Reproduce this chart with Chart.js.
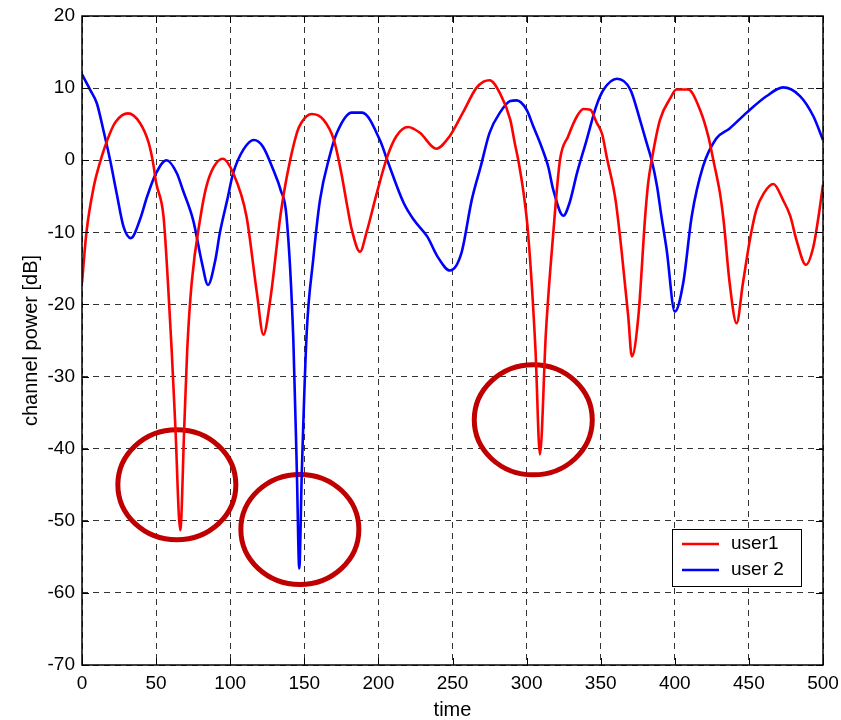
<!DOCTYPE html>
<html>
<head>
<meta charset="utf-8">
<script src="https://cdn.jsdelivr.net/npm/chart.js@4/dist/chart.umd.min.js"></script>
<style>
  html, body { margin: 0; padding: 0; background: #fff; }
  #wrap { width: 841px; height: 720px; }
</style>
</head>
<body>
<div id="wrap"><canvas id="chart" width="841" height="720"></canvas></div>
<script>
// user1 (red)
const user1Time = [
  0, 3, 8, 12, 19, 23, 31, 39, 45, 48,
  50, 55, 58, 60.5, 63, 66.3, 69, 71, 74, 80,
  84, 89, 95, 102, 111, 118, 122.4, 127, 134, 138,
  145, 148, 155, 163, 170, 175, 179, 182, 187.6, 192,
  199, 206, 212, 220, 228, 239, 248, 257, 266, 271,
  275, 282, 289, 292, 294.4, 298, 301, 306, 309, 313,
  318, 322.5, 328, 334, 338.3, 343, 347.3, 351, 354, 360,
  364, 368.6, 371, 375.4, 380, 382, 384.4, 390, 397, 401,
  409, 417, 422.6, 426, 430.5, 433, 437, 441.7, 446, 450.7,
  455, 460, 466.5, 473, 478, 482, 488.5, 493.5, 497, 500
];
const user1Power = [
  -17, -10, -3.6, -0.4, 3.8, 5.4, 6.5, 5.2, 2.4, -0.4,
  -3.1, -7.8, -17, -26.3, -37, -51.3, -37, -26.3, -17, -7.8,
  -3.6, -0.9, 0.2, -1.8, -7.8, -18.4, -24.2, -19.4, -7.5, -2.5,
  3.8, 5.2, 6.4, 5.6, 2.8, -1.8, -6.4, -9.6, -12.7, -10,
  -4.5, 0.5, 3.3, 4.6, 3.8, 1.6, 3.3, 6.6, 10, 10.9,
  11.1, 9.3, 5.6, 2.4, 0, -4.6, -10.1, -26.3, -40.8, -24,
  -10.1, 0, 3.3, 6.1, 7.1, 7, 5.2, 3.6, 0.5, -5.5,
  -12.4, -21.7, -27.2, -21.7, -7.8, -3.2, 0, 5.6, 8.6, 9.8,
  9.8, 7, 3.3, 0, -4.6, -8.5, -17, -22.6, -17, -11,
  -6.9, -4.6, -3.3, -5.5, -7.8, -11, -14.5, -12, -7.8, -3.4
];

// user 2 (blue)
const user2Time = [
  0, 5.4, 10, 14.4, 19, 23.4, 28, 33, 39, 44,
  50, 57, 64, 68, 75, 81, 85, 90, 93, 98,
  102, 109, 116, 122, 129, 134, 138, 142.6, 145, 146.6,
  148.3, 151.6, 156, 160.6, 167, 172, 182, 189, 201, 206,
  217, 224, 233, 240, 248.3, 256, 263, 269, 275, 282,
  289, 293.3, 300, 304.5, 310, 314.6, 318, 324.8, 329, 334,
  340.5, 347, 352, 361, 370, 376.5, 381, 384.4, 388, 391,
  394.5, 400, 405.7, 411.4, 419, 428, 437, 448.5, 462, 473,
  484.5, 493.5, 500
];
const user2Power = [
  11.9, 9.8, 7.9, 4.2, 0, -4.6, -9.2, -10.8, -8.3, -5,
  -1.8, 0, -1.8, -4.1, -8.3, -14.3, -17.3, -13.8, -10.1, -5.5,
  -1.8, 1.5, 2.8, 1.9, -1.3, -4.1, -7.8, -24.9, -43.4, -56.6,
  -43.4, -24, -13.8, -5.5, 0.5, 3.8, 6.6, 6.6, 2.8, 0,
  -5.9, -8.3, -10.6, -13.4, -15.3, -12.9, -5.5, -0.9, 3.8, 6.6,
  8.2, 8.3, 7, 4.7, 1.9, -0.9, -4.1, -7.7, -5.9, -1.8,
  2.8, 7.5, 9.8, 11.3, 9.8, 5.6, 2.4, 0, -3.6, -7.8,
  -12.4, -21, -17, -7.8, -0.9, 3, 4.4, 6.6, 8.9, 10.1,
  8.9, 6.1, 2.8
];

const seriesNames = ['user1', 'user 2'];
const seriesColors = ['#ff0000', '#0000ff'];

// annotation circles (centre in data units)
const circleTime = [64, 147, 304.5];
const circlePower = [-45, -51.2, -36];

const xTicks = [0, 50, 100, 150, 200, 250, 300, 350, 400, 450, 500];
const yTicks = [20, 10, 0, -10, -20, -30, -40, -50, -60, -70];

const toPoints = (ts, vs) => ts.map((t, i) => ({ x: t, y: vs[i] }));

const matlabBits = {
  id: 'matlabBits',
  beforeDatasetsDraw(chart) {
    const { ctx, scales: { x, y } } = chart;
    ctx.save();
    ctx.strokeStyle = '#c00000';
    ctx.lineWidth = 5;
    circleTime.forEach((t, i) => {
      ctx.beginPath();
      ctx.ellipse(x.getPixelForValue(t), y.getPixelForValue(circlePower[i]), 59, 55, 0, 0, Math.PI * 2);
      ctx.stroke();
    });
    ctx.restore();
  },
  afterDatasetsDraw(chart) {
    const { ctx, chartArea: a, scales: { x, y } } = chart;
    ctx.save();
    ctx.strokeStyle = '#000';
    ctx.lineWidth = 1.5;
    ctx.strokeRect(a.left, a.top, a.right - a.left, a.bottom - a.top);
    // small inward ticks like matlab
    ctx.lineWidth = 1;
    ctx.beginPath();
    xTicks.forEach(v => {
      const px = Math.round(x.getPixelForValue(v)) + 0.5;
      ctx.moveTo(px, a.bottom); ctx.lineTo(px, a.bottom - 7);
      ctx.moveTo(px, a.top); ctx.lineTo(px, a.top + 7);
    });
    yTicks.forEach(v => {
      const py = Math.round(y.getPixelForValue(v)) + 0.5;
      ctx.moveTo(a.left, py); ctx.lineTo(a.left + 7, py);
      ctx.moveTo(a.right, py); ctx.lineTo(a.right - 7, py);
    });
    ctx.stroke();

    // legend box
    const bx = a.right - 151, by = a.bottom - 136, bw = 129, bh = 57;
    ctx.fillStyle = '#fff';
    ctx.fillRect(bx, by, bw, bh);
    ctx.strokeStyle = '#000';
    ctx.lineWidth = 1;
    ctx.strokeRect(bx + 0.5, by + 0.5, bw, bh);
    ctx.font = '19px "Liberation Sans", Arial, sans-serif';
    ctx.textBaseline = 'middle';
    seriesNames.forEach((name, i) => {
      const ly = by + 15 + i * 26;
      ctx.strokeStyle = seriesColors[i];
      ctx.lineWidth = 2.5;
      ctx.beginPath();
      ctx.moveTo(bx + 10, ly); ctx.lineTo(bx + 47, ly);
      ctx.stroke();
      ctx.fillStyle = '#000';
      ctx.fillText(name, bx + 59, ly);
    });
    ctx.restore();
  }
};

const tickFont = { family: '"Liberation Sans", Arial, sans-serif', size: 19 };
const titleFont = { family: '"Liberation Sans", Arial, sans-serif', size: 20, lineHeight: 1 };

new Chart(document.getElementById('chart'), {
  type: 'line',
  data: {
    datasets: [
      {
        label: seriesNames[0],
        data: toPoints(user1Time, user1Power),
        borderColor: seriesColors[0],
        borderWidth: 2.6,
        pointRadius: 0,
        cubicInterpolationMode: 'monotone'
      },
      {
        label: seriesNames[1],
        data: toPoints(user2Time, user2Power),
        borderColor: seriesColors[1],
        borderWidth: 2.6,
        pointRadius: 0,
        cubicInterpolationMode: 'monotone'
      }
    ]
  },
  options: {
    responsive: false,
    animation: false,
    events: [],
    layout: { padding: { top: 16, right: 18, left: 0, bottom: 0 } },
    plugins: { legend: { display: false }, tooltip: { enabled: false } },
    scales: {
      x: {
        type: 'linear',
        min: 0,
        max: 500,
        afterFit: s => { s.height = 55; s.paddingLeft = 0; s.paddingRight = 0; },
        afterBuildTicks: s => { s.ticks = xTicks.map(v => ({ value: v })); },
        ticks: { color: '#000', font: tickFont, padding: 7, maxRotation: 0 },
        grid: { color: '#333', drawTicks: false },
        border: { display: false, dash: [6, 5] },
        title: { display: true, text: 'time', color: '#000', font: titleFont, padding: { top: 0, bottom: 0 } }
      },
      y: {
        min: -70,
        max: 20,
        afterFit: s => { s.width = 82; s.paddingTop = 0; s.paddingBottom = 0; },
        afterBuildTicks: s => { s.ticks = yTicks.map(v => ({ value: v })); },
        ticks: { color: '#000', font: tickFont, padding: 7 },
        grid: { color: '#333', drawTicks: false },
        border: { display: false, dash: [6, 5] },
        title: { display: true, text: 'channel power [dB]', color: '#000', font: titleFont, padding: { top: 21, bottom: 0 } }
      }
    }
  },
  plugins: [matlabBits]
});
</script>
</body>
</html>
